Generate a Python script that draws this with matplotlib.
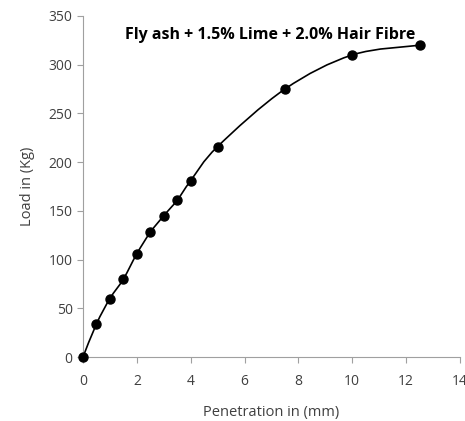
import matplotlib
matplotlib.use("Agg")
import matplotlib.pyplot as plt
from matplotlib.path import Path
from matplotlib.patches import PathPatch
import numpy as np

penetration = [0, 0.5, 1.0, 1.5, 2.0, 2.5, 3.0, 3.5, 4.0, 5.0, 7.5, 10.0, 12.5]
load = [0, 34, 60, 80, 106, 128, 145, 161, 181, 216, 275, 310, 320]
title = "Fly ash + 1.5% Lime + 2.0% Hair Fibre"
xticks = [0, 2, 4, 6, 8, 10, 12, 14]
yticks = [0, 50, 100, 150, 200, 250, 300, 350]

plt.rcParams['font.family'] = ['Open Sans', 'DejaVu Sans']
fig = plt.figure(figsize=(4.65, 4.21), dpi=100)
ax = fig.add_axes([0.1785, 0.152, 0.8105, 0.810])

# smooth curve (Excel-style Bezier through the points)
x = np.array(penetration, float); y = np.array(load, float)
verts = [(x[0], y[0])]; codes = [Path.MOVETO]
n = len(x)
for i in range(n - 1):
    p0 = np.array([x[max(i-1, 0)], y[max(i-1, 0)]])
    p1 = np.array([x[i], y[i]]); p2 = np.array([x[i+1], y[i+1]])
    p3 = np.array([x[min(i+2, n-1)], y[min(i+2, n-1)]])
    c1 = p1 + (p2 - p0) / 6.0
    c2 = p2 - (p3 - p1) / 6.0
    verts += [tuple(c1), tuple(c2), tuple(p2)]
    codes += [Path.CURVE4] * 3
ax.add_patch(PathPatch(Path(verts, codes), facecolor='none', edgecolor='black', lw=1.2, zorder=2))
ax.plot(penetration, load, linestyle='none', marker='o', color='black', markersize=6.5, zorder=3, clip_on=False)

ax.set_xlim(0, 14)
ax.set_ylim(0, 350)
ax.set_xticks(xticks)
ax.set_yticks(yticks)
for s in ['top', 'right']:
    ax.spines[s].set_visible(False)
for s in ['left', 'bottom']:
    ax.spines[s].set_color('#a0a0a0')
ax.tick_params(axis='both', colors='#a0a0a0', labelcolor='#404040', labelsize=10, length=4, direction='out')
ax.tick_params(axis='x', pad=8)
ax.set_xlabel('Penetration in (mm)', fontsize=10.5, color='#404040', labelpad=12)
ax.set_ylabel('Load in (Kg)', fontsize=10.5, color='#404040', labelpad=10)
ax.text(6.95, 330, title, fontsize=11.5, fontweight='bold', ha='center', va='center', color='black')

fig.savefig('out.png', dpi=100)
